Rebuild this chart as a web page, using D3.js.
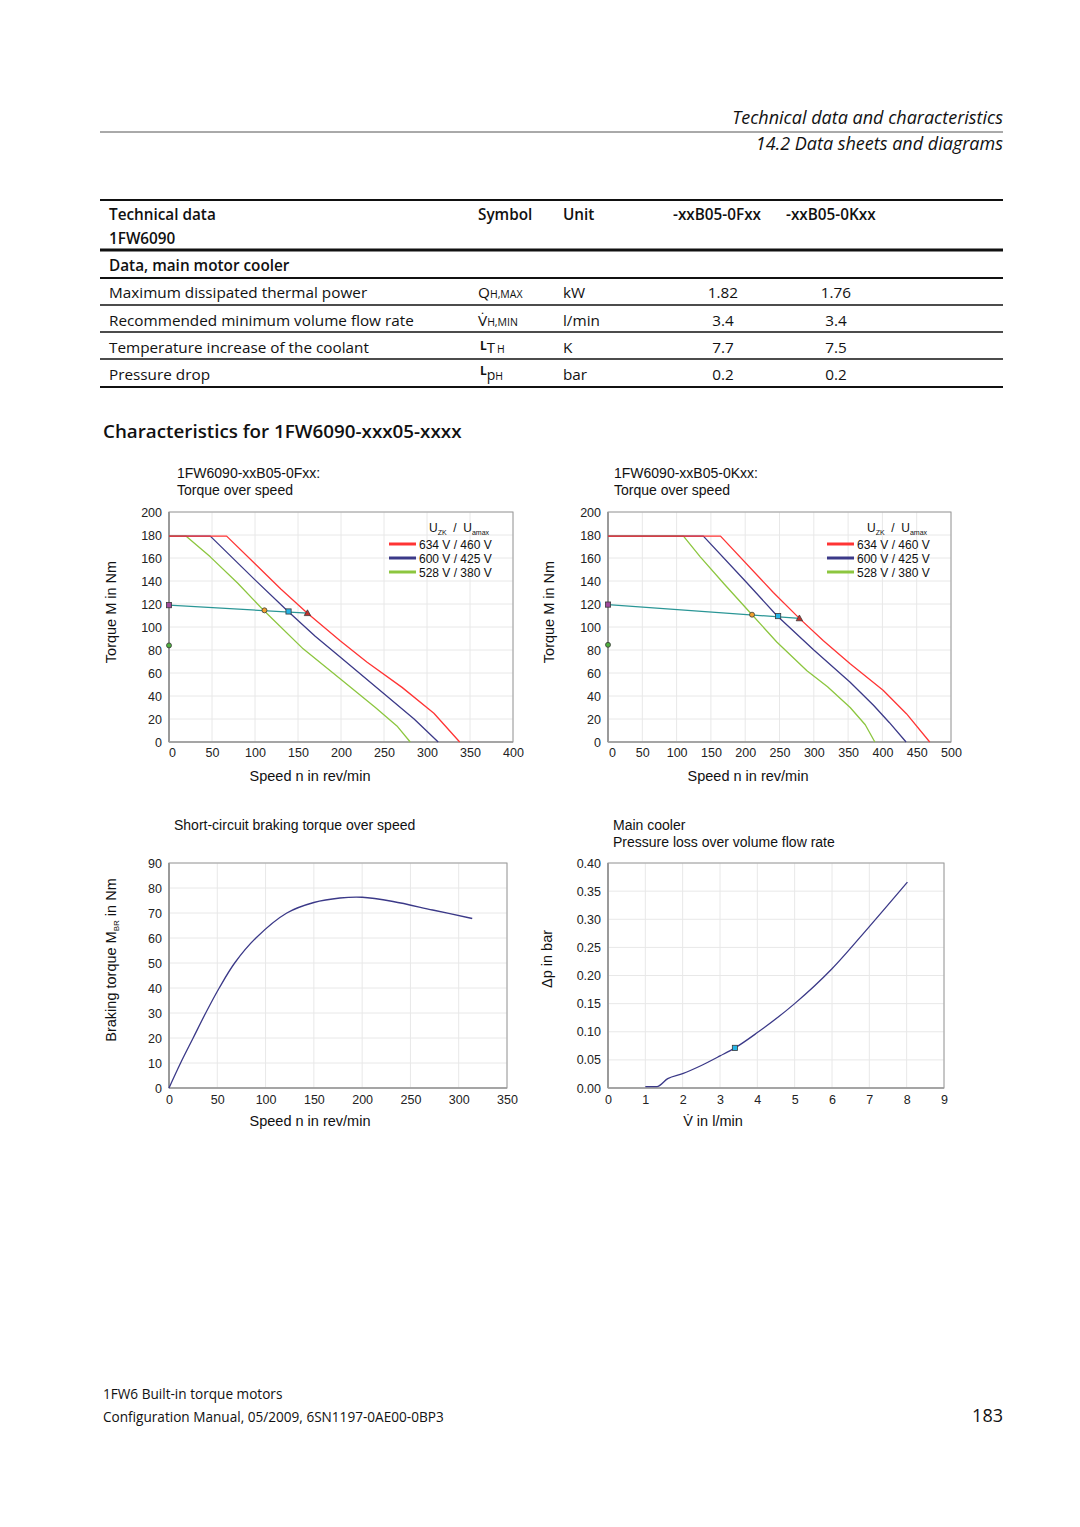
<!DOCTYPE html>
<html>
<head>
<meta charset="utf-8">
<script src="https://cdn.jsdelivr.net/npm/d3@7"></script>
<style>
  html, body { margin: 0; padding: 0; background: #fff; }
  svg { display: block; }
</style>
</head>
<body>
<div id="page"></div>
<script>
///////////////////////////////////////////////////////////////////////////////////////////////////
// data

// torque over speed, -xxB05-0Fxx  ([speed rev/min, torque Nm])
var fxx_634 = [[0,179],[67,179],[100,155],[130,133],[161,112],[199,88],[230,69.5],[271,47.5],[308,25],[338,0]];
var fxx_600 = [[0,179],[48,179],[100,141],[137,114.5],[170,92],[199,74],[250,42],[285,20],[313,0]];
var fxx_528 = [[0,179],[20,179],[48,161],[80,138],[110,114.5],[156,81],[199,55],[240,30],[265,14],[280.5,0]];
var fxx_s1  = [[0,119],[161,112]];
var fxx_marks = [[0,119],[0,84],[111,114.5],[139,113.5],[161,112]];

// torque over speed, -xxB05-0Kxx
var kxx_634 = [[0,179],[164,179],[241,130],[279,107.5],[314,88],[353,68],[401,45],[435,24.6],[469,0]];
var kxx_600 = [[0,179],[139,179],[200,140],[246,110],[300,80],[353,52],[387,32],[410,17],[434.5,0]];
var kxx_528 = [[0,179],[110,179],[134.5,161],[170,137],[210,110.7],[246,87],[290,62],[320,48],[353,30],[375,15],[389,0]];
var kxx_s1  = [[0,119.5],[279,107.5]];
var kxx_marks = [[0,119.5],[0,84.5],[210,110.7],[248,109.5],[279,107.5]];

var mark_shapes = ["square", "circle", "circle", "square", "triangle"];
var mark_fills  = ["#a04a9c", "#4fae3f", "#f2a22d", "#25b4e6", "#c0302c"];

var legend_labels = ["634 V / 460 V", "600 V / 425 V", "528 V / 380 V"];
var legend_colors = ["#ff3434", "#3b3988", "#8cc63f"];

// short-circuit braking torque ([speed rev/min, torque Nm])
var braking = [[0,0],[12,10],[25,20],[38,30],[52,40],[68,50],[90,60],[122,70],[150,74.2],[177,76],[200,76.3],[232,74.6],[273,71.2],[314,67.8]];

// pressure loss over volume flow ([l/min, bar])
var pressure = [[1.0,0.0024],[1.31,0.0024],[1.6,0.0166],[2.0,0.0256],[2.5,0.040],[3.0,0.057],[3.4,0.0713],[4.0,0.0985],[5.0,0.150],[6.0,0.212],[7.0,0.287],[8.02,0.366]];
var pressure_mark = [[3.4,0.0713]];

// table
var table_rows    = ["Maximum dissipated thermal power", "Recommended minimum volume flow rate", "Temperature increase of the coolant", "Pressure drop"];
var table_units   = ["kW", "l/min", "K", "bar"];
var table_fxx     = ["1.82", "3.4", "7.7", "0.2"];
var table_kxx     = ["1.76", "3.4", "7.5", "0.2"];

var ticks_200  = [0,20,40,60,80,100,120,140,160,180,200];
var ticks_400  = [0,50,100,150,200,250,300,350,400];
var ticks_500  = [0,50,100,150,200,250,300,350,400,450,500];
var ticks_90   = [0,10,20,30,40,50,60,70,80,90];
var ticks_350  = [0,50,100,150,200,250,300,350];
var ticks_p    = [0,0.05,0.10,0.15,0.20,0.25,0.30,0.35,0.40];
var ticks_flow = [0,1,2,3,4,5,6,7,8,9];

///////////////////////////////////////////////////////////////////////////////////////////////////

var page_font  = "'Open Sans', 'Noto Sans', sans-serif";
var chart_font = "'Liberation Sans', Arial, sans-serif";

var svg = d3.select("#page").append("svg")
    .attr("width", 1080)
    .attr("height", 1527)
    .style("background", "#fff");

///////////////////////////////////////////////////////////////////////////////////////////////////

function d3_xy_chart(opt) {
    //////////////////////////////////////////////////////////////////////
    //
    // Draws one framed line chart with grid, tick labels and titles
    //
    //////////////////////////////////////////////////////////////////////
    var x = d3.scaleLinear().domain(opt.x_domain).range([opt.left, opt.right]);
    var y = d3.scaleLinear().domain(opt.y_domain).range([opt.bottom, opt.top]);
    var g = svg.append("g");

    g.selectAll(".vgrid")
        .data(opt.x_ticks)
        .join("line")
        .attr("x1", d => x(d)).attr("x2", d => x(d))
        .attr("y1", opt.top).attr("y2", opt.bottom)
        .attr("stroke", "#e8e8e8").attr("stroke-width", 1);
    g.selectAll(".hgrid")
        .data(opt.y_ticks)
        .join("line")
        .attr("x1", opt.left).attr("x2", opt.right)
        .attr("y1", d => y(d)).attr("y2", d => y(d))
        .attr("stroke", "#e8e8e8").attr("stroke-width", 1);

    g.append("rect")
        .attr("x", opt.left).attr("y", opt.top)
        .attr("width", opt.right - opt.left).attr("height", opt.bottom - opt.top)
        .attr("fill", "none").attr("stroke", "#9a9a9a").attr("stroke-width", 1);
    g.append("line")
        .attr("x1", opt.left).attr("x2", opt.left)
        .attr("y1", opt.top).attr("y2", opt.bottom)
        .attr("stroke", "#9a9a9a").attr("stroke-width", 2);
    g.append("line")
        .attr("x1", opt.left).attr("x2", opt.right)
        .attr("y1", opt.bottom).attr("y2", opt.bottom)
        .attr("stroke", "#9a9a9a").attr("stroke-width", 1.5);

    var ax = g.append("g")
        .attr("transform", "translate(0," + opt.bottom + ")")
        .call(d3.axisBottom(x).tickValues(opt.x_ticks).tickSize(0).tickPadding(opt.x_pad || 6)
            .tickFormat(opt.x_format || d3.format("d")));
    var ay = g.append("g")
        .attr("transform", "translate(" + opt.left + ",0)")
        .call(d3.axisLeft(y).tickValues(opt.y_ticks).tickSize(0).tickPadding(7)
            .tickFormat(opt.y_format || d3.format("d")));
    [ax, ay].forEach(function(a) {
        a.select(".domain").remove();
        a.selectAll("text")
            .attr("fill", "#222")
            .style("font-family", chart_font)
            .style("font-size", "12.5px");
    });
    // first x label sits a little right of the axis on the sheet
    if (opt.zero_shift) {
        ax.selectAll(".tick").filter(d => d === 0).select("text").attr("dx", opt.zero_shift);
    }

    // titles above the plot
    opt.titles.forEach(function(t, i) {
        g.append("text")
            .attr("x", opt.title_x).attr("y", opt.title_y + i * 16.5)
            .attr("fill", "#111")
            .style("font-family", chart_font).style("font-size", "14px")
            .text(t);
    });

    // x axis title
    var xt = g.append("text")
        .attr("x", opt.x_title_x).attr("y", opt.x_title_y)
        .attr("text-anchor", "middle").attr("fill", "#111")
        .style("font-family", chart_font).style("font-size", "14.5px");
    opt.x_title(xt);

    // y axis title
    var yt = g.append("text")
        .attr("transform", "translate(" + opt.y_title_x + "," + opt.y_title_y + ") rotate(-90)")
        .attr("text-anchor", "middle").attr("fill", "#111")
        .style("font-family", chart_font).style("font-size", "14.5px");
    opt.y_title(yt);

    var line = d3.line()
        .x(d => x(d[0])).y(d => y(d[1]))
        .curve(opt.curve || d3.curveLinear);

    opt.series.forEach(function(s) {
        g.append("path")
            .attr("d", line(s.data))
            .attr("fill", "none")
            .attr("stroke", s.color)
            .attr("stroke-width", s.width || 1.3)
            .attr("stroke-linejoin", "round");
    });

    if (opt.marks) {
        opt.marks.forEach(function(d, i) {
            let cx = x(d[0]), cy = y(d[1]);
            let shape = opt.mark_shapes[i];
            let m;
            if (shape === "square") {
                m = g.append("rect").attr("x", cx - 2.6).attr("y", cy - 2.6)
                    .attr("width", 5.2).attr("height", 5.2);
            } else if (shape === "circle") {
                m = g.append("circle").attr("cx", cx).attr("cy", cy).attr("r", 2.5);
            } else {
                m = g.append("path")
                    .attr("d", "M" + cx + "," + (cy - 3.4) + "L" + (cx + 3.2) + "," + (cy + 2.4)
                        + "L" + (cx - 3.2) + "," + (cy + 2.4) + "Z");
            }
            m.attr("fill", opt.mark_fills[i]).attr("stroke", "#3a3a3a").attr("stroke-width", 0.8);
        });
    }

    if (opt.legend) {
        let lx = opt.right - 124;
        let hdr = g.append("text")
            .attr("x", opt.right - 84).attr("y", opt.top + 20)
            .attr("fill", "#111")
            .style("font-family", chart_font).style("font-size", "12px");
        hdr.append("tspan").text("U");
        hdr.append("tspan").attr("dy", 3).style("font-size", "7px").text("ZK");
        hdr.append("tspan").attr("dy", -3).text("  /  U").attr("xml:space", "preserve");
        hdr.append("tspan").attr("dy", 3).style("font-size", "7px").text("amax");
        opt.legend.forEach(function(lab, i) {
            let ly = opt.top + 32 + i * 14;
            g.append("line")
                .attr("x1", lx).attr("x2", lx + 27)
                .attr("y1", ly).attr("y2", ly)
                .attr("stroke", legend_colors[i]).attr("stroke-width", 3);
            g.append("text")
                .attr("x", lx + 30).attr("y", ly + 4.5)
                .attr("fill", "#111")
                .style("font-family", chart_font).style("font-size", "12px")
                .text(lab);
        });
    }
} // end function

///////////////////////////////////////////////////////////////////////////////////////////////////
// page header

svg.append("text")
    .attr("x", 1003).attr("y", 124).attr("text-anchor", "end")
    .style("font-family", page_font).style("font-style", "italic").style("font-size", "18px")
    .attr("fill", "#111")
    .text("Technical data and characteristics");
svg.append("line")
    .attr("x1", 100).attr("x2", 1003).attr("y1", 132).attr("y2", 132)
    .attr("stroke", "#555").attr("stroke-width", 1);
svg.append("text")
    .attr("x", 1003).attr("y", 150).attr("text-anchor", "end")
    .style("font-family", page_font).style("font-style", "italic").style("font-size", "18px")
    .attr("fill", "#111")
    .text("14.2 Data sheets and diagrams");

///////////////////////////////////////////////////////////////////////////////////////////////////
// table

function t_text(x, y, str, weight, anchor) {
    return svg.append("text")
        .attr("x", x).attr("y", y)
        .attr("text-anchor", anchor || "start")
        .attr("fill", "#111")
        .style("font-family", page_font)
        .style("font-size", "15.3px")
        .style("font-weight", weight || 400)
        .text(str);
}

[[200, 2], [250, 3], [278, 2], [305, 1.6], [332, 1.6], [359, 1.6], [387, 2]].forEach(function(l) {
    svg.append("line")
        .attr("x1", 100).attr("x2", 1003).attr("y1", l[0]).attr("y2", l[0])
        .attr("stroke", "#111").attr("stroke-width", l[1]);
});

t_text(109, 220, "Technical data", 600);
t_text(109, 244, "1FW6090", 600);
t_text(478, 220, "Symbol", 600);
t_text(563, 220, "Unit", 600);
t_text(673, 220, "-xxB05-0Fxx", 600);
t_text(786, 220, "-xxB05-0Kxx", 600);
t_text(109, 271, "Data, main motor cooler", 600);

var row_y = [298, 326, 353, 380];
table_rows.forEach(function(r, i) {
    t_text(109, row_y[i], r);
    t_text(563, row_y[i], table_units[i]);
    t_text(723, row_y[i], table_fxx[i], 400, "middle");
    t_text(836, row_y[i], table_kxx[i], 400, "middle");
});

// symbols
var s0 = t_text(478, row_y[0], "Q");
s0.append("tspan").style("font-size", "10.5px").text("H,MAX");
var s1 = t_text(478, row_y[1], "V\u0307");
s1.append("tspan").style("font-size", "10.5px").text("H,MIN");
var s2 = t_text(480, row_y[2] - 3, "L");
s2.style("font-weight", 700).style("font-size", "12px");
s2.append("tspan").attr("dy", 3).style("font-weight", 400).style("font-size", "15px").text("T");
s2.append("tspan").attr("dx", 2).style("font-weight", 400).style("font-size", "10.5px").text("H");
var s3 = t_text(480, row_y[3] - 5, "L");
s3.style("font-weight", 700).style("font-size", "12px");
s3.append("tspan").attr("dy", 5).style("font-weight", 400).style("font-size", "14px").text("p");
s3.append("tspan").style("font-weight", 400).style("font-size", "10.5px").text("H");

svg.append("text")
    .attr("x", 103).attr("y", 438)
    .attr("fill", "#111")
    .style("font-family", page_font).style("font-size", "18.8px").style("font-weight", 600)
    .text("Characteristics for 1FW6090-xxx05-xxxx");

///////////////////////////////////////////////////////////////////////////////////////////////////
// charts

function speed_title(t) { t.text("Speed n in rev/min"); }
function torque_title(t) { t.text("Torque M in Nm"); }

d3_xy_chart({
    left: 169, right: 513, top: 512, bottom: 742,
    x_domain: [0, 400], y_domain: [0, 200],
    x_ticks: ticks_400, y_ticks: ticks_200, zero_shift: 3,
    titles: ["1FW6090-xxB05-0Fxx:", "Torque over speed"],
    title_x: 177, title_y: 478,
    x_title: speed_title, x_title_x: 310, x_title_y: 781,
    y_title: torque_title, y_title_x: 116, y_title_y: 612,
    series: [
        { data: fxx_528, color: legend_colors[2] },
        { data: fxx_600, color: legend_colors[1] },
        { data: fxx_634, color: legend_colors[0] },
        { data: fxx_s1, color: "#2a9696" }
    ],
    marks: fxx_marks, mark_shapes: mark_shapes, mark_fills: mark_fills,
    legend: legend_labels
});

d3_xy_chart({
    left: 608, right: 951, top: 512, bottom: 742,
    x_domain: [0, 500], y_domain: [0, 200],
    x_ticks: ticks_500, y_ticks: ticks_200, zero_shift: 4,
    titles: ["1FW6090-xxB05-0Kxx:", "Torque over speed"],
    title_x: 614, title_y: 478,
    x_title: speed_title, x_title_x: 748, x_title_y: 781,
    y_title: torque_title, y_title_x: 554, y_title_y: 612,
    series: [
        { data: kxx_528, color: legend_colors[2] },
        { data: kxx_600, color: legend_colors[1] },
        { data: kxx_634, color: legend_colors[0] },
        { data: kxx_s1, color: "#2a9696" }
    ],
    marks: kxx_marks, mark_shapes: mark_shapes, mark_fills: mark_fills,
    legend: legend_labels
});

d3_xy_chart({
    left: 169, right: 507, top: 863, bottom: 1088,
    x_domain: [0, 350], y_domain: [0, 90],
    x_ticks: ticks_350, y_ticks: ticks_90,
    x_pad: 7,
    titles: ["Short-circuit braking torque over speed"],
    title_x: 174, title_y: 830,
    x_title: speed_title, x_title_x: 310, x_title_y: 1126,
    y_title: function(t) {
        t.append("tspan").text("Braking torque M");
        t.append("tspan").attr("dy", 3).style("font-size", "8px").text("BR");
        t.append("tspan").attr("dy", -3).text(" in Nm");
    },
    y_title_x: 116, y_title_y: 960,
    curve: d3.curveCatmullRom,
    series: [ { data: braking, color: "#3b3988" } ]
});

d3_xy_chart({
    left: 608, right: 944, top: 863, bottom: 1088,
    x_domain: [0, 9], y_domain: [0, 0.40],
    x_ticks: ticks_flow, y_ticks: ticks_p,
    x_pad: 7,
    y_format: d3.format(".2f"),
    titles: ["Main cooler", "Pressure loss over volume flow rate"],
    title_x: 613, title_y: 830,
    x_title: function(t) { t.text("V\u0307 in l/min"); },
    x_title_x: 713, x_title_y: 1126,
    y_title: function(t) { t.text("\u0394p in bar"); },
    y_title_x: 552, y_title_y: 959,
    curve: d3.curveMonotoneX,
    series: [ { data: pressure, color: "#3b3988" } ],
    marks: pressure_mark, mark_shapes: ["square"], mark_fills: ["#25b4e6"]
});

///////////////////////////////////////////////////////////////////////////////////////////////////
// footer

svg.append("text")
    .attr("x", 103).attr("y", 1399).attr("fill", "#111")
    .style("font-family", page_font).style("font-size", "13.6px")
    .text("1FW6 Built-in torque motors");
svg.append("text")
    .attr("x", 103).attr("y", 1422).attr("fill", "#111")
    .style("font-family", page_font).style("font-size", "13.6px")
    .text("Configuration Manual, 05/2009, 6SN1197-0AE00-0BP3");
svg.append("text")
    .attr("x", 1003).attr("y", 1422).attr("text-anchor", "end").attr("fill", "#111")
    .style("font-family", page_font).style("font-size", "18px")
    .text("183");
</script>
</body>
</html>
